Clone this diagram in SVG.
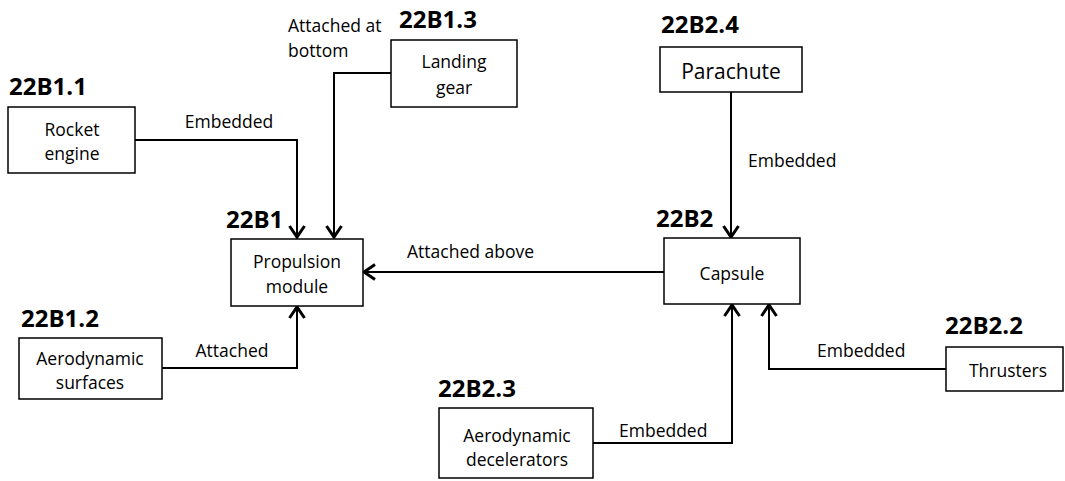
<svg xmlns="http://www.w3.org/2000/svg" width="1065" height="481" viewBox="0 0 1065 481">
<defs>
<style>
.box{fill:#fff;stroke:#000;stroke-width:1.5}
.t{font-family:"Open Sans","Liberation Sans",sans-serif;font-size:17.5px;fill:#000}
.c{text-anchor:middle}
.id{font-family:"Open Sans","Liberation Sans",sans-serif;font-size:24px;font-weight:bold;fill:#000}
.ln{fill:none;stroke:#000;stroke-width:2;marker-end:url(#ah)}
</style>
<marker id="ah" markerUnits="userSpaceOnUse" markerWidth="20" markerHeight="20" refX="0" refY="0" viewBox="-12 -10 14 20" orient="auto" overflow="visible">
<path d="M-11,-7.5 L0,0 L-11,7.5" fill="none" stroke="#000" stroke-width="3"/>
</marker>
</defs>
<rect width="1065" height="481" fill="#fff"/>
<g id="connectors">
<path class="ln" d="M135,140 H297 V237"/>
<path class="ln" d="M391,73 H334 V237"/>
<path class="ln" d="M162,368 H297 V307"/>
<path class="ln" d="M664,272 H364"/>
<path class="ln" d="M731,92 V237"/>
<path class="ln" d="M593,443 H732 V305"/>
<path class="ln" d="M946,369 H769 V305"/>
<text class="t c" x="229" y="128">Embedded</text>
<text class="t" x="288" y="32">Attached at</text>
<text class="t" x="288" y="57">bottom</text>
<text class="t c" x="232" y="357">Attached</text>
<text class="t" x="407" y="258">Attached above</text>
<text class="t" x="748" y="167">Embedded</text>
<text class="t" x="619" y="437">Embedded</text>
<text class="t" x="817" y="357">Embedded</text>
</g>
<g id="rocket-engine">
<text class="id" x="9" y="95">22B1.1</text>
<rect class="box" x="8" y="107" width="127" height="66"/>
<text class="t c" x="72" y="136">Rocket</text>
<text class="t c" x="72" y="160">engine</text>
</g>
<g id="landing-gear">
<text class="id" x="399" y="28">22B1.3</text>
<rect class="box" x="391" y="40" width="126" height="67"/>
<text class="t c" x="454" y="68">Landing</text>
<text class="t c" x="454" y="94">gear</text>
</g>
<g id="parachute">
<text class="id" x="661" y="33">22B2.4</text>
<rect class="box" x="660" y="47" width="142" height="45"/>
<text class="t c" x="731" y="79" style="font-size:21px">Parachute</text>
</g>
<g id="propulsion-module">
<text class="id" x="226" y="228">22B1</text>
<rect class="box" x="231" y="239" width="132" height="67"/>
<text class="t c" x="297" y="268">Propulsion</text>
<text class="t c" x="297" y="293">module</text>
</g>
<g id="capsule">
<text class="id" x="656" y="227">22B2</text>
<rect class="box" x="664" y="238" width="136" height="66"/>
<text class="t c" x="732" y="280">Capsule</text>
</g>
<g id="aerodynamic-surfaces">
<text class="id" x="21" y="327">22B1.2</text>
<rect class="box" x="19" y="338" width="143" height="61"/>
<text class="t c" x="90" y="365">Aerodynamic</text>
<text class="t c" x="90" y="389">surfaces</text>
</g>
<g id="aerodynamic-decelerators">
<text class="id" x="438" y="397">22B2.3</text>
<rect class="box" x="439" y="408" width="154" height="70"/>
<text class="t c" x="517" y="442">Aerodynamic</text>
<text class="t c" x="517" y="466">decelerators</text>
</g>
<g id="thrusters">
<text class="id" x="945" y="334">22B2.2</text>
<rect class="box" x="946" y="347" width="117" height="44"/>
<text class="t c" x="1008" y="377">Thrusters</text>
</g>
</svg>
